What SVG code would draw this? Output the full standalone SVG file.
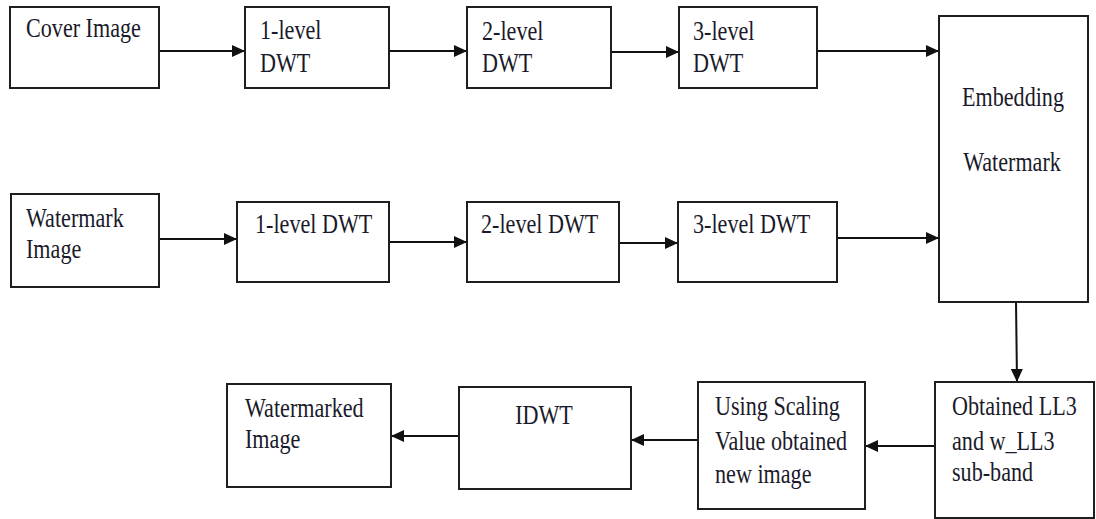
<svg xmlns="http://www.w3.org/2000/svg" width="1096" height="519" viewBox="0 0 1096 519">
  <style>
    .box { fill: #ffffff; stroke: #1e1e1e; stroke-width: 2; }
    .lbl { font-family: "Liberation Serif", "Times New Roman", serif; font-size: 27px; fill: #1a1a2a; }
    .mid { text-anchor: middle; }
    .wire { fill: none; stroke: #111111; stroke-width: 2; }
  </style>
  <defs>
    <marker id="arrow" markerUnits="userSpaceOnUse" markerWidth="14" markerHeight="12" refX="13" refY="6" orient="auto">
      <path d="M0,0 L13,6 L0,12 z" fill="#111111"/>
    </marker>
  </defs>
  <rect width="1096" height="519" fill="#ffffff"/>

  <!-- connectors -->
  <g id="connectors">
    <line class="wire" x1="159" y1="51" x2="245" y2="51" marker-end="url(#arrow)"/>
    <line class="wire" x1="389" y1="51" x2="467" y2="51" marker-end="url(#arrow)"/>
    <line class="wire" x1="611" y1="52" x2="679" y2="52" marker-end="url(#arrow)"/>
    <line class="wire" x1="817" y1="51" x2="939" y2="51" marker-end="url(#arrow)"/>
    <line class="wire" x1="159" y1="239" x2="237" y2="239" marker-end="url(#arrow)"/>
    <line class="wire" x1="389" y1="242" x2="467" y2="242" marker-end="url(#arrow)"/>
    <line class="wire" x1="619" y1="243" x2="678" y2="243" marker-end="url(#arrow)"/>
    <line class="wire" x1="837" y1="238" x2="939" y2="238" marker-end="url(#arrow)"/>
    <line class="wire" x1="1016" y1="302" x2="1017" y2="382" marker-end="url(#arrow)"/>
    <line class="wire" x1="935" y1="446" x2="865" y2="446" marker-end="url(#arrow)"/>
    <line class="wire" x1="698" y1="440" x2="631" y2="440" marker-end="url(#arrow)"/>
    <line class="wire" x1="459" y1="436" x2="391" y2="436" marker-end="url(#arrow)"/>
  </g>

  <!-- top row: cover image path -->
  <g id="cover-image">
    <rect class="box" x="10" y="7" width="149" height="81"/>
    <text class="lbl" transform="matrix(0.82,0,0,1,26,37)">Cover Image</text>
  </g>
  <g id="cover-dwt1">
    <rect class="box" x="245" y="7" width="144" height="81"/>
    <text class="lbl" transform="matrix(0.82,0,0,1,260,39)">1-level</text>
    <text class="lbl" transform="matrix(0.82,0,0,1,260,72)">DWT</text>
  </g>
  <g id="cover-dwt2">
    <rect class="box" x="467" y="7" width="144" height="81"/>
    <text class="lbl" transform="matrix(0.82,0,0,1,482,40)">2-level</text>
    <text class="lbl" transform="matrix(0.82,0,0,1,482,72)">DWT</text>
  </g>
  <g id="cover-dwt3">
    <rect class="box" x="679" y="7" width="138" height="81"/>
    <text class="lbl" transform="matrix(0.82,0,0,1,693,40)">3-level</text>
    <text class="lbl" transform="matrix(0.82,0,0,1,693,72)">DWT</text>
  </g>

  <!-- embedding block -->
  <g id="embedding">
    <rect class="box" x="939" y="16" width="149" height="286"/>
    <text class="lbl mid" transform="matrix(0.82,0,0,1,1013,106)">Embedding</text>
    <text class="lbl mid" transform="matrix(0.82,0,0,1,1012,171)">Watermark</text>
  </g>

  <!-- middle row: watermark path -->
  <g id="watermark-image">
    <rect class="box" x="11" y="194" width="148" height="93"/>
    <text class="lbl" transform="matrix(0.82,0,0,1,26,227)">Watermark</text>
    <text class="lbl" transform="matrix(0.82,0,0,1,26,258)">Image</text>
  </g>
  <g id="wm-dwt1">
    <rect class="box" x="237" y="202" width="152" height="80"/>
    <text class="lbl" transform="matrix(0.82,0,0,1,255,233)">1-level DWT</text>
  </g>
  <g id="wm-dwt2">
    <rect class="box" x="467" y="202" width="152" height="80"/>
    <text class="lbl" transform="matrix(0.82,0,0,1,481,233)">2-level DWT</text>
  </g>
  <g id="wm-dwt3">
    <rect class="box" x="678" y="202" width="159" height="80"/>
    <text class="lbl" transform="matrix(0.82,0,0,1,693,233)">3-level DWT</text>
  </g>

  <!-- bottom row: reconstruction -->
  <g id="obtained-subbands">
    <rect class="box" x="935" y="382" width="159" height="136"/>
    <text class="lbl" transform="matrix(0.82,0,0,1,952,415)">Obtained LL3</text>
    <text class="lbl" transform="matrix(0.82,0,0,1,952,450)">and w_LL3</text>
    <text class="lbl" transform="matrix(0.82,0,0,1,952,481)">sub-band</text>
  </g>
  <g id="scaling">
    <rect class="box" x="698" y="382" width="167" height="127"/>
    <text class="lbl" transform="matrix(0.82,0,0,1,715,415)">Using Scaling</text>
    <text class="lbl" transform="matrix(0.82,0,0,1,715,450)">Value obtained</text>
    <text class="lbl" transform="matrix(0.82,0,0,1,715,483)">new image</text>
  </g>
  <g id="idwt">
    <rect class="box" x="459" y="387" width="172" height="102"/>
    <text class="lbl mid" transform="matrix(0.82,0,0,1,544,424)">IDWT</text>
  </g>
  <g id="watermarked-image">
    <rect class="box" x="227" y="384" width="164" height="103"/>
    <text class="lbl" transform="matrix(0.82,0,0,1,245,417)">Watermarked</text>
    <text class="lbl" transform="matrix(0.82,0,0,1,245,448)">Image</text>
  </g>
</svg>
